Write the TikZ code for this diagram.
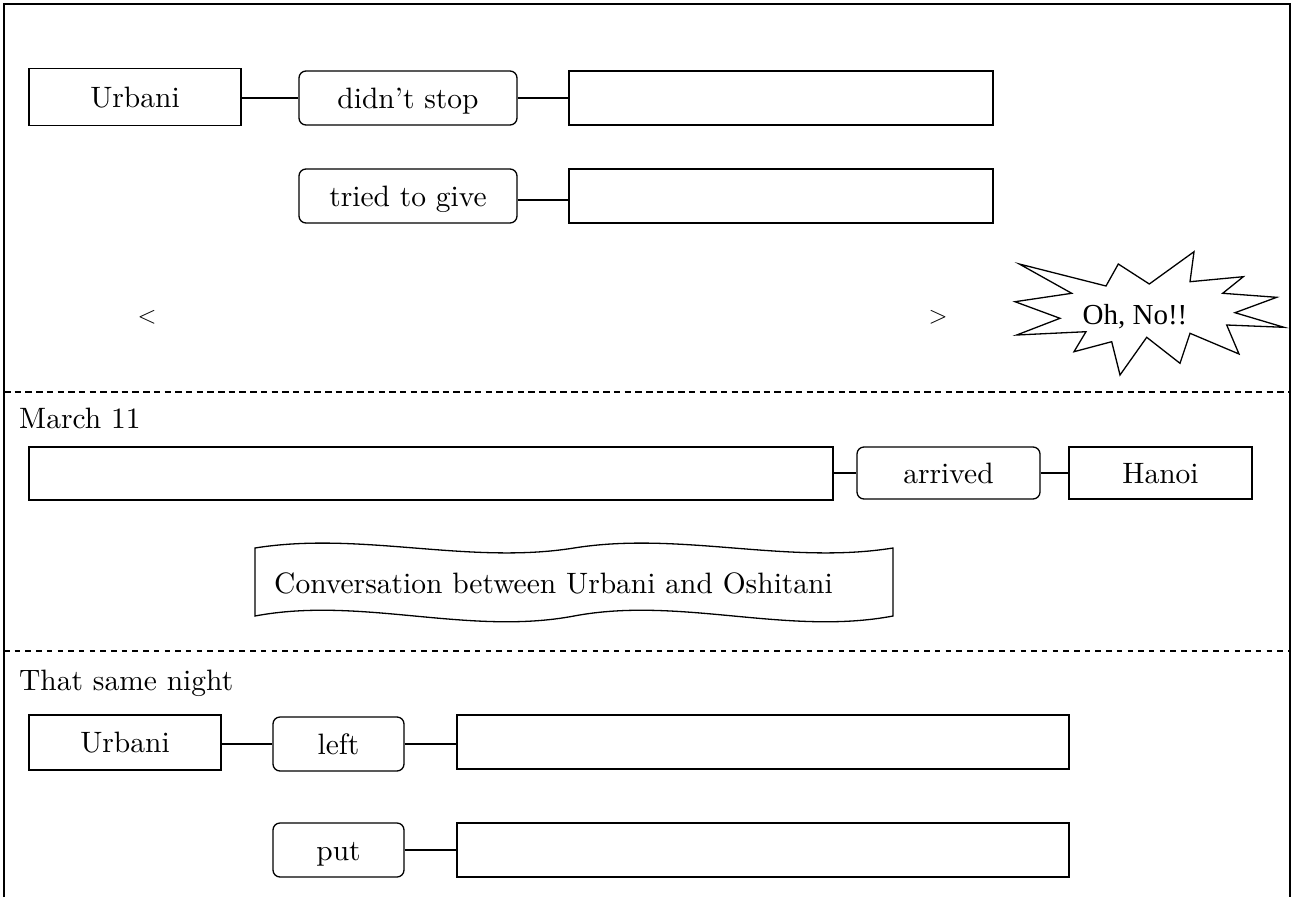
\documentclass[tikz,border=0pt]{standalone}
\usepackage{fontspec}
\setmainfont{lmroman10-regular}[Extension=.otf]
\newfontfamily\bangfont{Liberation Serif}
\newcommand\mainsz{\fontsize{29.5pt}{35pt}\selectfont}
\tikzset{
  sq/.style={draw, line width=1.3pt, inner sep=0pt, minimum height=54pt,
             font=\mainsz, text height=27pt, text depth=6.5pt},
  rnd/.style={sq, rounded corners=7pt},
  link/.style={line width=1.3pt},
  frame/.style={line width=1.6pt},
  split/.style={line width=1.6pt, dash pattern=on 6.5pt off 4.2pt},
  splitfine/.style={line width=1.6pt, dash pattern=on 5.5pt off 5.2pt},
  heading/.style={anchor=base west, inner sep=0pt, font=\mainsz},
  bracket/.style={inner sep=0pt, font=\mainsz},
}
\begin{document}
\begin{tikzpicture}[x=1pt, y=-1pt]
\useasboundingbox (0,0) rectangle (1292,897);

% outer frame, open at the bottom
\draw[frame] (4,897) -- (4,4) -- (1290,4) -- (1290,897);

% ---------- first block ----------
\node[sq, minimum width=212pt, minimum height=57pt] (u1) at (135,97) {Urbani};
\node[rnd, minimum width=218pt] (ds) at (408,98) {didn’t stop};
\node[sq, minimum width=424pt] (e1) at (781,98) {};
\node[rnd, minimum width=218pt] (tg) at (408,196) {tried to give};
\node[sq, minimum width=424pt] (e2) at (781,196) {};
\draw[link] (ds.west -| u1.east) -- (ds.west);
\draw[link] (ds.east) -- (e1.west);
\draw[link] ([yshift=-4pt]tg.east) -- ([yshift=-4pt]e2.west);

\node[bracket] (lt) at (147,317) {$<$};
\node[bracket] (gt) at (938,317) {$>$};

% exclamation burst
\draw[line width=1.3pt, line join=miter]
  (1019.3,264) -- (1106,286) -- (1118.3,264) -- (1149.3,284) -- (1194,251.7)
  -- (1190,281.7) -- (1243.3,276.7) -- (1222.7,293.3) -- (1276.7,297.3)
  -- (1235,312.7) -- (1284,327.3) -- (1226.7,325) -- (1239,354)
  -- (1190,333.3) -- (1180,363.3) -- (1146.7,337.3) -- (1120,375)
  -- (1111.7,341.7) -- (1074,351.7) -- (1086,331.7) -- (1016.7,335)
  -- (1060,318.3) -- (1015,301.7) -- (1071.7,293.3) -- cycle;
\node[inner sep=0pt, font=\bangfont\fontsize{29pt}{34pt}\selectfont] (bang) at (1135,317) {Oh, No!!};

\draw[split] (4,392) -- (1290,392);

% ---------- March 11 ----------
\node[heading] (h1) at (19,428) {March 11};
\node[sq, minimum width=804pt, minimum height=53pt] (lb) at (431,473.5) {};
\node[rnd, minimum width=183pt, minimum height=52pt] (ar) at (948.5,473) {arrived};
\node[sq, minimum width=183pt, minimum height=52pt] (hn) at (1160.5,473) {Hanoi};
\draw[link] (ar.west -| lb.east) -- (ar.west);
\draw[link] (ar.east) -- (hn.west);

% double-wave banner
\draw[line width=1.3pt, line join=miter]
  (255,548) .. controls (361,531) and (468,565) .. (574,548)
            .. controls (680,531) and (787,565) .. (893,548)
  -- (893,616) .. controls (787,636) and (680,596) .. (574,616)
               .. controls (468,636) and (361,596) .. (255,616)
  -- cycle;
\node[anchor=west, inner sep=0pt, font=\mainsz] (conv) at (274,583) {Conversation between Urbani and Oshitani};

\draw[splitfine] (4,651) -- (1290,651);

% ---------- That same night ----------
\node[heading] (h2) at (19,690) {That same night};
\node[sq, minimum width=192pt, minimum height=55pt] (u2) at (125,742.5) {Urbani};
\node[rnd, minimum width=131pt] (lf) at (338.5,744) {left};
\node[sq, minimum width=612pt] (e3) at (763,742) {};
\node[rnd, minimum width=131pt] (pt) at (338.5,850) {put};
\node[sq, minimum width=612pt] (e4) at (763,850) {};
\draw[link] (lf.west -| u2.east) -- (lf.west);
\draw[link] (lf.east) -- (lf.east -| e3.west);
\draw[link] (pt.east) -- (pt.east -| e4.west);
\end{tikzpicture}
\end{document}
